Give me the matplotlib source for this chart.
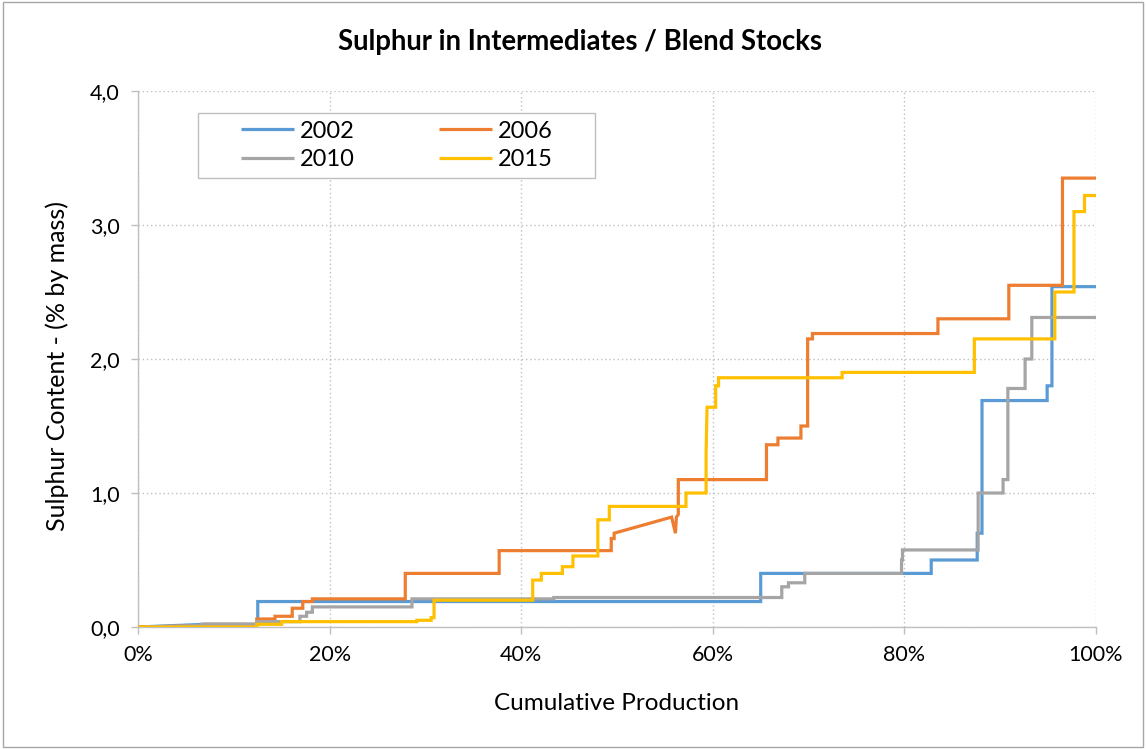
import matplotlib
matplotlib.use("Agg")
import matplotlib.pyplot as plt
from matplotlib.patches import Rectangle
from matplotlib.ticker import FuncFormatter

plt.rcParams['font.family'] = ['Lato', 'DejaVu Sans']

# ---- data (x = cumulative production %, y = sulphur % by mass) ----
x_2002 = [0, 7, 12.5, 12.5, 65, 65, 82.8, 82.8, 87.6, 87.6, 88.1, 88.1, 94.9, 94.9, 95.4, 95.4, 100]
y_2002 = [0, 0.02, 0.02, 0.19, 0.19, 0.40, 0.40, 0.50, 0.50, 0.70, 0.70, 1.69, 1.69, 1.80, 1.80, 2.54, 2.54]

x_2006 = [0, 6.8, 6.8, 12.4, 12.4, 14.3, 14.3, 16.1, 16.1, 17.2,
          17.2, 18.2, 18.2, 27.9, 27.9, 37.7, 37.7, 49.4, 49.4, 49.7,
          49.7, 55.7, 56.1, 56.2, 56.4, 56.4, 65.6, 65.6, 66.8, 66.8,
          69.2, 69.2, 69.9, 69.9, 70.4, 70.4, 83.5, 83.5, 90.9, 90.9,
          96.5, 96.5, 100]
y_2006 = [0, 0.01, 0.02, 0.02, 0.06, 0.06, 0.08, 0.08, 0.14, 0.14,
          0.19, 0.19, 0.21, 0.21, 0.40, 0.40, 0.57, 0.57, 0.66, 0.66,
          0.70, 0.82, 0.70, 0.82, 0.84, 1.10, 1.10, 1.36, 1.36, 1.41,
          1.41, 1.50, 1.50, 2.15, 2.15, 2.19, 2.19, 2.30, 2.30, 2.55,
          2.55, 3.35, 3.35]

x_2010 = [0, 6.6, 6.6, 12.4, 12.4, 16.9, 16.9, 17.6, 17.6, 18.2,
          18.2, 28.6, 28.6, 43.4, 43.4, 67.2, 67.2, 67.9, 67.9, 69.6,
          69.6, 79.7, 79.7, 79.8, 79.8, 87.7, 87.7, 90.3, 90.3, 90.8,
          90.8, 92.6, 92.6, 93.3, 93.3, 100]
y_2010 = [0, 0.01, 0.02, 0.02, 0.04, 0.04, 0.08, 0.08, 0.11, 0.11,
          0.15, 0.15, 0.21, 0.21, 0.22, 0.22, 0.30, 0.30, 0.33, 0.33,
          0.40, 0.40, 0.50, 0.50, 0.575, 0.575, 1.00, 1.00, 1.10, 1.10,
          1.78, 1.78, 2.00, 2.00, 2.31, 2.31]

x_2015 = [0, 12.4, 12.4, 15.0, 15.0, 29.1, 29.1, 30.6, 30.6, 30.9,
          30.9, 41.2, 41.2, 42.1, 42.1, 44.3, 44.3, 45.4, 45.4, 48.0,
          48.0, 49.2, 49.2, 57.2, 57.2, 59.3, 59.3, 59.4, 60.3, 60.3,
          60.6, 60.6, 73.5, 73.5, 87.3, 87.3, 95.7, 95.7, 97.7, 97.7,
          98.8, 98.8, 100]
y_2015 = [0, 0, 0.02, 0.02, 0.04, 0.04, 0.05, 0.05, 0.07, 0.07,
          0.20, 0.20, 0.35, 0.35, 0.40, 0.40, 0.45, 0.45, 0.53, 0.53,
          0.80, 0.80, 0.90, 0.90, 1.00, 1.00, 1.30, 1.64, 1.64, 1.80,
          1.80, 1.86, 1.86, 1.90, 1.90, 2.15, 2.15, 2.50, 2.50, 3.10,
          3.10, 3.22, 3.22]

series_labels = ["2002", "2006", "2010", "2015"]
series_colors = ["#5B9BD5", "#ED7D31", "#A5A5A5", "#FFC000"]

x_ticks = [0, 20, 40, 60, 80, 100]
y_ticks = [0.0, 1.0, 2.0, 3.0, 4.0]

title = "Sulphur in Intermediates / Blend Stocks"
x_label = "Cumulative Production"
y_label = "Sulphur Content - (% by mass)"

# ---- figure ----
W, H = 1146, 749
fig = plt.figure(figsize=(W/100, H/100), dpi=100)
L, R, T, B = 138, 1096, 91, 627
ax = fig.add_axes([L/W, 1-B/H, (R-L)/W, (B-T)/H])

def px2ax(px, py):
    return ((px-L)/(R-L), (B-py)/(B-T))

data = [(x_2002, y_2002), (x_2006, y_2006), (x_2010, y_2010), (x_2015, y_2015)]
lines = {}
for (xs, ys), lab, col in zip(data, series_labels, series_colors):
    ln, = ax.plot(xs, ys, color=col, lw=2.3, label=lab, solid_joinstyle='miter',
                  solid_capstyle='butt', zorder=3)
    lines[lab] = ln

ax.set_xlim(0, 100)
ax.set_ylim(0, 4.0)
ax.set_xticks(x_ticks)
ax.set_yticks(y_ticks)
ax.xaxis.set_major_formatter(FuncFormatter(lambda v, p: f"{v:.0f}%"))
ax.yaxis.set_major_formatter(FuncFormatter(lambda v, p: f"{v:.1f}".replace(".", ",")))

ax.grid(True, color="#BFBFBF", linestyle=(0, (1, 2)), linewidth=1.0, zorder=0)
for s in ["top", "right"]:
    ax.spines[s].set_visible(False)
for s in ["left", "bottom"]:
    ax.spines[s].set_color("#BFBFBF")
    ax.spines[s].set_linewidth(1.0)
ax.tick_params(axis='both', colors="#BFBFBF", labelcolor="black", labelsize=15.5, length=5, width=1.0)
ax.tick_params(axis='x', pad=8)
ax.tick_params(axis='y', pad=8)

fig.text(580/W, 1-42/H, title, ha='center', va='center', fontsize=19.8, fontweight='bold')
fig.text(617/W, 1-703/H, x_label, ha='center', va='center', fontsize=17.5)
fig.text(57/W, 1-366/H, y_label, ha='center', va='center', rotation=90, fontsize=18)

order = ["2002", "2010", "2006", "2015"]
leg = ax.legend([lines[k] for k in order], order, ncol=2, loc='center left',
                bbox_to_anchor=px2ax(241, 145.5), fontsize=17,
                frameon=False, handlelength=2.25, columnspacing=3.55, borderpad=0,
                labelspacing=0.32, handletextpad=0.25, borderaxespad=0)
x0, y0 = px2ax(198, 178)
x1, y1 = px2ax(595, 113)
ax.add_patch(Rectangle((x0, y0), x1-x0, y1-y0, transform=ax.transAxes, fill=True,
                       facecolor="white", edgecolor="#BFBFBF", linewidth=1.0, zorder=4))
leg.set_zorder(5)

fig.patches.append(Rectangle((0.003, 0.003), 0.994, 0.994, transform=fig.transFigure,
                             fill=False, edgecolor="#A6A6A6", linewidth=1.0))

fig.savefig("out.png", dpi=100)
